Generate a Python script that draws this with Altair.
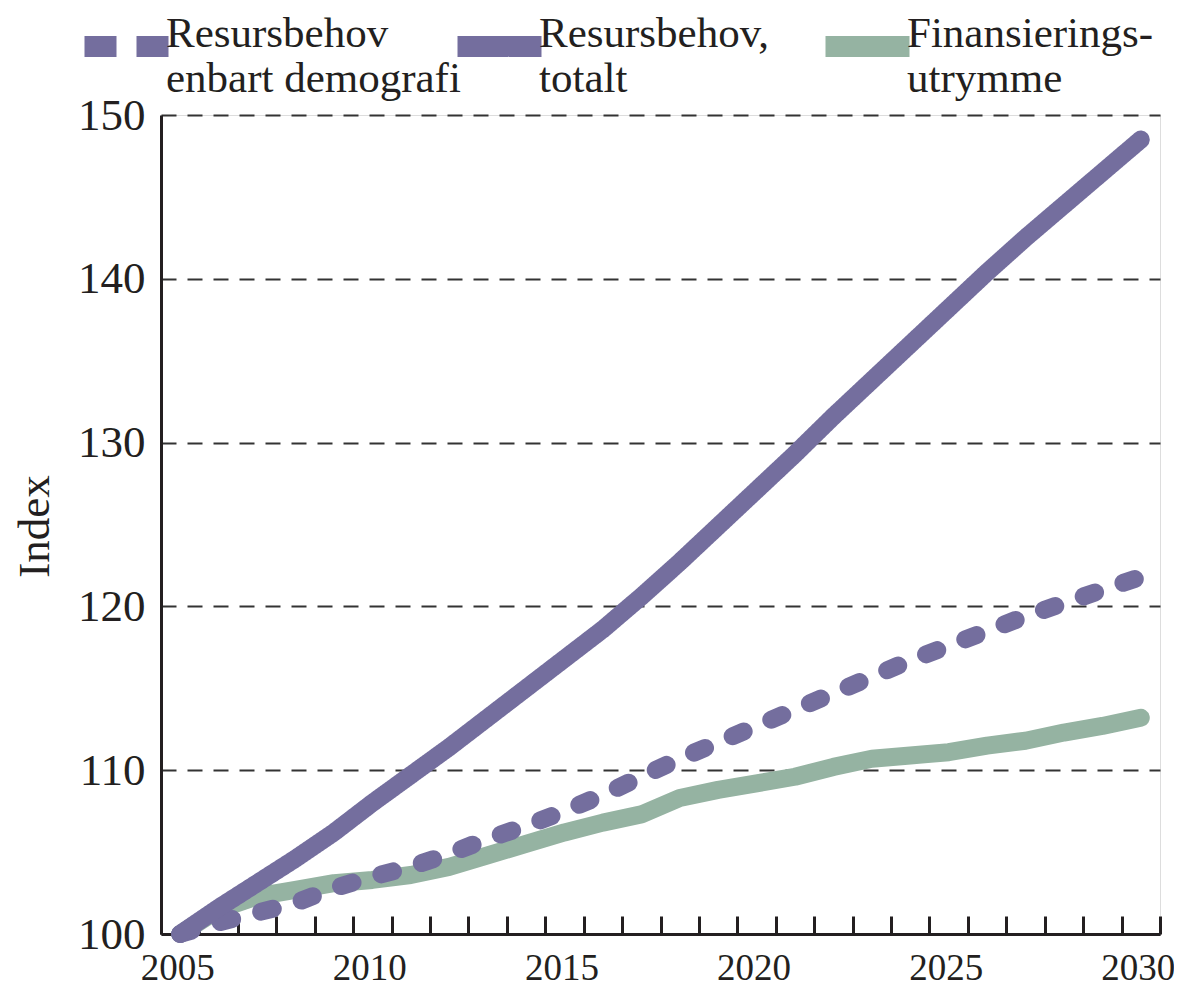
import altair as alt
import pandas as pd

years = list(range(2005, 2031))
demografi = [100, 100.7, 101.3, 101.9, 102.8, 103.5, 104.1, 104.9, 105.8, 106.6,
             107.5, 108.5, 109.6, 110.7, 111.7, 112.7, 113.7, 114.7, 115.7, 116.7,
             117.6, 118.5, 119.4, 120.2, 121.0, 121.8]
totalt = [100, 101.6, 103.1, 104.6, 106.2, 108.0, 109.7, 111.4, 113.2, 115.0,
          116.8, 118.6, 120.6, 122.7, 124.9, 127.1, 129.3, 131.6, 133.8, 136.0,
          138.2, 140.4, 142.5, 144.5, 146.5, 148.5]
finans = [100, 101.5, 102.3, 102.7, 103.1, 103.3, 103.6, 104.1, 104.8, 105.5,
          106.2, 106.8, 107.3, 108.3, 108.8, 109.2, 109.6, 110.2, 110.7, 110.9,
          111.1, 111.5, 111.8, 112.3, 112.7, 113.2]

series_names = ["Resursbehov|enbart demografi", "Resursbehov,|totalt", "Finansierings-|utrymme"]
PURPLE = "#746e9e"
GREEN = "#95b3a2"
DEM_DASH = [12, 30]

y_ticks = [100, 110, 120, 130, 140, 150]
x_labels = [2005, 2010, 2015, 2020, 2025, 2030]
x_tick_edges = [2004.5 + i for i in range(27)]

rows = []
for name, vals in zip(series_names, [demografi, totalt, finans]):
    for yr, v in zip(years, vals):
        rows.append({"year": yr, "value": v, "series": name})
df = pd.DataFrame(rows)

FONT = "Liberation Serif"
INK = "#231f20"
W, H = 999, 819


def make_legend(x, stroke, **extra):
    return alt.Legend(
        orient="none", legendX=x, legendY=-121, direction="horizontal",
        title=None, symbolType="stroke", symbolSize=7056, symbolStrokeWidth=21,
        symbolStrokeColor=stroke,
        labelFontSize=43, labelFont=FONT, labelColor=INK, labelBaseline="alphabetic",
        labelExpr="split(datum.label, '|')", labelLimit=500,
        labelOffset={"expr": "-13"}, padding=0, **extra)


xscale = alt.Scale(domain=[2004.5, 2030.5], nice=False, zero=False)
yscale = alt.Scale(domain=[100, 150], nice=False, zero=False)

y_enc = alt.Y("value:Q", scale=yscale, axis=alt.Axis(
    values=y_ticks, grid=True, gridDash=[15, 11], gridColor="#333333", gridWidth=2,
    ticks=False, domainWidth=3, domainColor=INK, labelFontSize=45, labelFont=FONT,
    labelColor=INK, labelPadding=16, title="Index", titleFont=FONT, titleFontSize=45,
    titleFontWeight="normal", titleColor=INK, titleX=-127, titleY=411, titleAngle=270,
    titleAlign="center", titleBaseline="middle"))

tick_axis = alt.Axis(orient="top", offset=-H, values=x_tick_edges, tickSize=18, tickWidth=3,
                     tickColor=INK, labels=False, domain=False, grid=False, title=None)
label_axis = alt.Axis(orient="bottom", values=x_labels, format="d", ticks=False, labelPadding=16,
                      labelFontSize=37, labelFont=FONT, labelColor=INK, labelBaseline="top",
                      labelOffset={"expr": "-3"},
                      domainWidth=3, domainColor=INK, grid=False, title=None)

base = alt.Chart(df).mark_line(strokeWidth=18, strokeCap="round", strokeJoin="round")

l_fin = base.transform_filter(alt.datum.series == series_names[2]).encode(
    x=alt.X("year:Q", scale=xscale, axis=tick_axis), y=y_enc,
    color=alt.Color("series:N", scale=alt.Scale(domain=[series_names[2]], range=[GREEN]),
                    legend=make_legend(654, GREEN)))
l_dem = base.transform_filter(alt.datum.series == series_names[0]).encode(
    x=alt.X("year:Q", scale=xscale, axis=label_axis), y=y_enc,
    color=alt.value(PURPLE), strokeDash=alt.value(DEM_DASH),
    opacity=alt.Opacity("series:O", scale=alt.Scale(domain=[series_names[0]], range=[1]),
                        legend=make_legend(-87, PURPLE, symbolDash=[32, 20])))
l_tot = base.transform_filter(alt.datum.series == series_names[1]).encode(
    x=alt.X("year:Q", scale=xscale, axis=None), y=y_enc,
    color=alt.value(PURPLE),
    strokeDash=alt.StrokeDash("series:N", scale=alt.Scale(domain=[series_names[1]], range=[[1, 0]]),
                              legend=make_legend(286, PURPLE)))

chart = alt.layer(l_fin, l_dem, l_tot).resolve_axis(x="independent").properties(
    width=W, height=H,
    autosize=alt.AutoSizeParams(type="none"),
    padding={"left": 153, "top": 107, "right": 14, "bottom": 52},
).configure_view(stroke=None).configure(font=FONT)

chart.save("out.html", embed_options={"renderer": "svg", "actions": False})
